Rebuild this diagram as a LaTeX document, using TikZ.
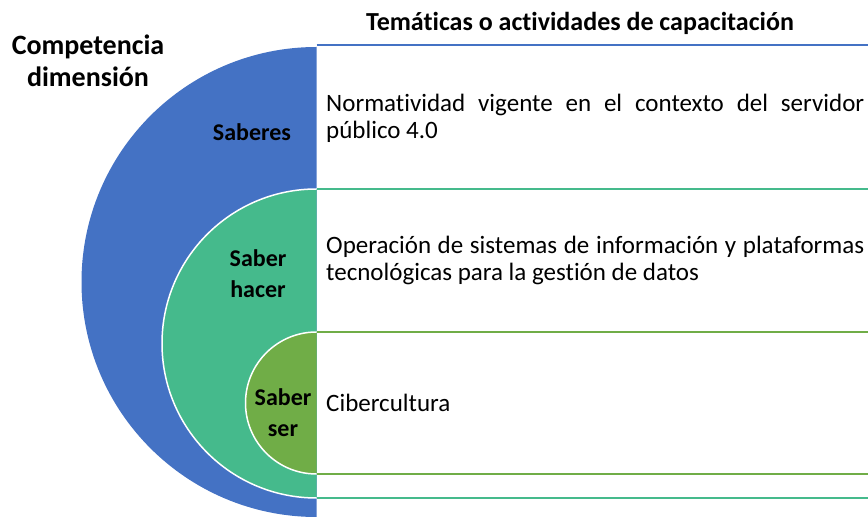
\documentclass[tikz,border=0pt]{standalone}
\usepackage{fontspec}
\setmainfont{Carlito}[RawFeature={-liga;-calt;-clig;-dlig}]
\definecolor{cblue}{HTML}{4472C4}
\definecolor{cteal}{HTML}{45BA8C}
\definecolor{colive}{HTML}{70AD47}
\tikzset{
  head/.style={font=\bfseries\fontsize{26}{32}\selectfont, align=center, inner sep=0pt},
  comphead/.style={font=\bfseries\fontsize{28}{32}\selectfont, align=center, inner sep=0pt},
  lab/.style={font=\bfseries\fontsize{24}{31}\selectfont, align=center, inner sep=0pt},
  body/.style={font=\fontsize{25}{27}\selectfont, anchor=west, text width=538pt, align=justify, inner sep=0pt},
  sep/.style={line width=1.6pt}
}
\begin{document}
\begin{tikzpicture}[x=1pt,y=-1pt]
\useasboundingbox (0,0) rectangle (868,518);
\begin{scope}
  \clip (0,0) rectangle (316.5,518);
  \fill[cblue] (316.5,282) circle (235pt);
  \filldraw[fill=cteal, draw=white, line width=1.5pt] (316.5,343.5) circle (154.5pt);
  \filldraw[fill=colive, draw=white, line width=1.5pt] (316.5,403) circle (71pt);
\end{scope}
\coordinate (l1) at (316.5,45);  \coordinate (r1) at (868,45);
\coordinate (l2) at (316.5,189); \coordinate (r2) at (868,189);
\coordinate (l3) at (316.5,332); \coordinate (r3) at (868,332);
\coordinate (l4) at (316.5,474); \coordinate (r4) at (868,474);
\coordinate (l5) at (316.5,498); \coordinate (r5) at (868,498);
\draw[sep, cblue] (l1) -- (r1);
\draw[sep, cteal] (l2) -- (r2);
\draw[sep, colive] (l3) -- (r3);
\draw[sep, colive] (l4) -- (r4);
\draw[sep, cteal] (l5) -- (r5);
\node[head] (title) at (580,23) {Temáticas o actividades de capacitación};
\node[comphead] (comp) at (88,61) {Competencia\\dimensión};
\node[lab] (saberes) at (252,132) {Saberes};
\node[lab] (hacer) at (258,274) {Saber\\hacer};
\node[lab] (ser) at (283,413) {Saber\\ser};
\node[body] (t1) at (326,118) {Normatividad vigente en el contexto del servidor público 4.0};
\node[body] (t2) at (326,260) {Operación de sistemas de información y plataformas tecnológicas para la gestión de datos};
\node[body] (t3) at (326,403) {Cibercultura};
\end{tikzpicture}
\end{document}
